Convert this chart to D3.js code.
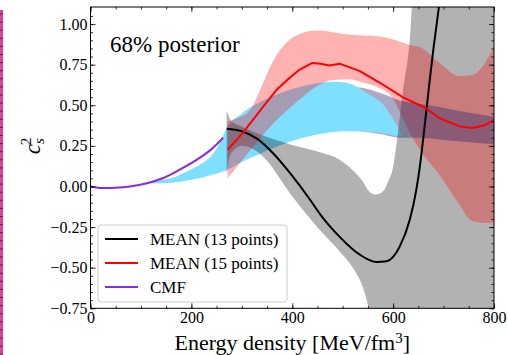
<!DOCTYPE html>
<html>
<head>
<meta charset="utf-8">
<script src="https://d3js.org/d3.v7.min.js"></script>
<style>
  body { margin:0; background:#fff; }
  text { font-family: 'Liberation Serif', 'Times New Roman', serif; fill:#000; }
  .axis path { display:none; }
  .axis line { stroke:#000; stroke-width:0.8; }
  .axis text { font-size:16px; }
</style>
</head>
<body>
<script>
// ---- data ----
var cmfX = [0, 25, 50, 78, 112, 144, 175, 211, 240, 263];
var cmfY = [0, -0.01, -0.008, 0, 0.02, 0.052, 0.10, 0.165, 0.23, 0.30];

var cyanX  = [115, 140, 165, 190, 215, 240, 255, 270, 300, 350, 400, 450, 480, 505, 530, 555, 575, 595, 610, 616];
var cyanLo = [0.02, 0.02, 0.025, 0.035, 0.05, 0.07, 0.085, 0.10, 0.15, 0.22, 0.28, 0.32, 0.335, 0.34, 0.34, 0.335, 0.33, 0.32, 0.31, 0.315];
var cyanHi = [0.025, 0.04, 0.055, 0.09, 0.13, 0.19, 0.26, 0.36, 0.45, 0.54, 0.60, 0.635, 0.645, 0.64, 0.61, 0.56, 0.52, 0.44, 0.36, 0.32];

var grayX  = [270, 272, 280, 300, 336, 355, 375, 395, 420, 455, 494, 520, 540, 552, 565, 580, 590, 600, 607, 619, 633, 640, 700, 800];
var grayHi = [0.47, 0.45, 0.40, 0.37, 0.32, 0.30, 0.28, 0.26, 0.24, 0.21, 0.165, 0.10, 0.03, -0.03, -0.05, -0.03, 0.03, 0.12, 0.27, 0.575, 0.9, 1.2, 1.2, 1.2];
var grayLo = [0.07, 0.12, 0.21, 0.25, 0.20, 0.14, 0.05, -0.04, -0.14, -0.27, -0.40, -0.50, -0.62, -0.75, -0.9, -1, -1, -1, -1, -1, -1, -1, -1, -1];

var redBandX = [272, 290, 316, 340, 360, 390, 420, 450, 480, 510, 540, 570, 595, 615, 635, 652, 692, 731, 755, 780, 800];
var redHi    = [0.40, 0.42, 0.47, 0.62, 0.76, 0.89, 0.945, 0.96, 0.95, 0.935, 0.93, 0.925, 0.91, 0.89, 0.87, 0.86, 0.76, 0.68, 0.685, 0.75, 0.86];
var redLo    = [0.05, 0.12, 0.22, 0.31, 0.38, 0.47, 0.55, 0.62, 0.655, 0.66, 0.64, 0.61, 0.56, 0.45, 0.32, 0.23, 0.07, -0.11, -0.21, -0.225, -0.22];

var slateX  = [480, 534, 580, 613, 652, 692, 740, 800];
var slateLo = [0.36, 0.34, 0.32, 0.30, 0.30, 0.29, 0.275, 0.26];
var slateHi = [0.62, 0.61, 0.57, 0.53, 0.51, 0.49, 0.46, 0.43];

var blackX = [270, 300, 330, 362, 395, 435, 455, 494, 534, 567, 587, 613, 633, 646, 652, 666, 672, 680, 691, 700];
var blackY = [0.355, 0.34, 0.295, 0.205, 0.085, -0.08, -0.17, -0.31, -0.42, -0.465, -0.46, -0.37, -0.205, -0.02, 0.10, 0.47, 0.64, 0.85, 1.11, 1.35];

var redX = [272, 302, 322, 342, 369, 395, 415, 439, 456, 474, 494, 534, 573, 619, 666, 692, 732, 757, 780, 800];
var redY = [0.226, 0.33, 0.41, 0.49, 0.595, 0.67, 0.72, 0.76, 0.755, 0.745, 0.756, 0.71, 0.64, 0.55, 0.48, 0.42, 0.37, 0.36, 0.375, 0.41];

var xTicks = [0, 200, 400, 600, 800];
var yTicks = [-0.75, -0.5, -0.25, 0, 0.25, 0.5, 0.75, 1.0];
var legendNames = ["MEAN (13 points)", "MEAN (15 points)", "CMF"];
var legendColors = ["#000000", "#ff0000", "#8a2be2"];

// ---- layout ----
var W = 508, H = 355;
var pL = 90.5, pR = 494, pT = 7, pB = 308.3;

var svg = d3.select("body").append("svg")
    .attr("width", W).attr("height", H);

var x = d3.scaleLinear().domain([0, 800]).range([pL, pR]);
var y = d3.scaleLinear().domain([-0.75, 1.105]).range([pB, pT]);

function zip(xs, ys) { return xs.map((v, i) => [v, ys[i]]); }
function zip3(xs, lo, hi) { return xs.map((v, i) => ({x: v, lo: lo[i], hi: hi[i]})); }

var area = d3.area()
    .x(d => x(d.x)).y0(d => y(d.lo)).y1(d => y(d.hi))
    .curve(d3.curveMonotoneX);
var line = d3.line()
    .x(d => x(d[0])).y(d => y(d[1]))
    .curve(d3.curveMonotoneX);

// neighbouring panel strip on the left edge
svg.append("rect").attr("x", 0).attr("y", 10).attr("width", 3).attr("height", H - 10)
    .attr("fill", "#e0409a");
svg.append("g").selectAll("line")
    .data(d3.range(14, H, 8.1))
    .enter().append("line")
    .attr("x1", 0).attr("x2", 3).attr("y1", d => d).attr("y2", d => d)
    .attr("stroke", "#5a2040").attr("stroke-width", 1);

var defs = svg.append("defs");
defs.append("clipPath").attr("id", "plot")
  .append("rect").attr("x", pL).attr("y", pT)
    .attr("width", pR - pL).attr("height", pB - pT);

var cyanData = zip3(cyanX, cyanLo, cyanHi);
var mask = defs.append("mask").attr("id", "nocyan")
    .attr("maskUnits", "userSpaceOnUse")
    .attr("x", 0).attr("y", 0).attr("width", W).attr("height", H);
mask.append("rect").attr("width", W).attr("height", H).attr("fill", "#fff");
mask.append("path").attr("d", area(cyanData)).attr("fill", "#000");

var plot = svg.append("g").attr("clip-path", "url(#plot)");

plot.append("path").attr("d", area(cyanData))
    .attr("fill", "#00bfff").attr("fill-opacity", 0.5);
plot.append("path").attr("d", area(zip3(grayX, grayLo, grayHi)))
    .attr("fill", "#000").attr("fill-opacity", 0.3);
plot.append("path").attr("d", area(zip3(redBandX, redLo, redHi)))
    .attr("fill", "#ff0000").attr("fill-opacity", 0.3);
plot.append("path").attr("d", area(zip3(slateX, slateLo, slateHi)))
    .attr("fill", "#2b2b70").attr("fill-opacity", 0.4)
    .attr("mask", "url(#nocyan)");

plot.append("path").attr("d", line(zip(cmfX, cmfY)))
    .attr("fill", "none").attr("stroke", "#8a2be2").attr("stroke-width", 2);
plot.append("path").attr("d", line(zip(blackX, blackY)))
    .attr("fill", "none").attr("stroke", "#000").attr("stroke-width", 2);
plot.append("path").attr("d", d3.line().x(d => x(d[0])).y(d => y(d[1]))(zip(redX, redY)))
    .attr("fill", "none").attr("stroke", "#ff0000").attr("stroke-width", 2)
    .attr("stroke-linejoin", "round");

// ---- axes, inward ticks on all four sides ----
var fmtY = d3.format(".2f");
var xMinor = d3.range(0, 801, 50), yMinor = d3.range(-0.75, 1.1, 0.05);

svg.append("g").attr("class", "axis").attr("transform", "translate(0," + pB + ")")
    .call(d3.axisBottom(x).tickValues(xTicks).tickSize(-5).tickPadding(3).tickFormat(d3.format("d")));
svg.append("g").attr("class", "axis").attr("transform", "translate(0," + pB + ")")
    .call(d3.axisBottom(x).tickValues(xMinor).tickSize(-2.5).tickFormat(""));
svg.append("g").attr("class", "axis").attr("transform", "translate(0," + pT + ")")
    .call(d3.axisTop(x).tickValues(xTicks).tickSize(-5).tickFormat(""));
svg.append("g").attr("class", "axis").attr("transform", "translate(0," + pT + ")")
    .call(d3.axisTop(x).tickValues(xMinor).tickSize(-2.5).tickFormat(""));

svg.append("g").attr("class", "axis").attr("transform", "translate(" + pL + ",0)")
    .call(d3.axisLeft(y).tickValues(yTicks).tickSize(-5).tickPadding(3).tickFormat(fmtY));
svg.append("g").attr("class", "axis").attr("transform", "translate(" + pL + ",0)")
    .call(d3.axisLeft(y).tickValues(yMinor).tickSize(-2.5).tickFormat(""));
svg.append("g").attr("class", "axis").attr("transform", "translate(" + pR + ",0)")
    .call(d3.axisRight(y).tickValues(yTicks).tickSize(-5).tickFormat(""));
svg.append("g").attr("class", "axis").attr("transform", "translate(" + pR + ",0)")
    .call(d3.axisRight(y).tickValues(yMinor).tickSize(-2.5).tickFormat(""));

svg.append("rect").attr("x", pL).attr("y", pT)
    .attr("width", pR - pL).attr("height", pB - pT)
    .attr("fill", "none").attr("stroke", "#000").attr("stroke-width", 1);

// ---- labels ----
svg.append("text").attr("x", (pL + pR) / 2).attr("y", 350)
    .attr("text-anchor", "middle").style("font-size", "22px")
    .html("Energy density [MeV/fm<tspan dy='-7' style='font-size:15px'>3</tspan><tspan dy='7'>]</tspan>");

var yl = svg.append("text").attr("transform", "translate(40,146) rotate(-90)")
    .attr("text-anchor", "middle");
yl.append("tspan").text("c").style("font-style", "italic").style("font-size", "23px");
yl.append("tspan").text("s").style("font-style", "italic").style("font-size", "15px").attr("dy", 4);
yl.append("tspan").text("2").style("font-size", "15px").attr("dx", -7).attr("dy", -13);

svg.append("text").attr("x", 110).attr("y", 52).style("font-size", "23px").text("68% posterior");

// ---- legend ----
var lg = svg.append("g");
lg.append("rect").attr("x", 98).attr("y", 225).attr("width", 189).attr("height", 77)
    .attr("rx", 3).attr("fill", "#fff").attr("fill-opacity", 0.8)
    .attr("stroke", "#cccccc").attr("stroke-width", 1);
var items = lg.selectAll("g.item").data(legendNames).enter().append("g")
    .attr("transform", (d, i) => "translate(0," + (239 + i * 24) + ")");
items.append("line").attr("x1", 105).attr("x2", 138)
    .attr("stroke", (d, i) => legendColors[i]).attr("stroke-width", 2);
items.append("text").attr("x", 150).attr("y", 5.5).style("font-size", "17px").text(d => d);
</script>
</body>
</html>
